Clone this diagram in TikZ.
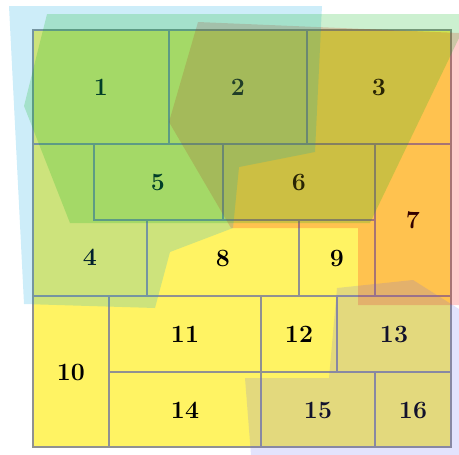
\documentclass[tikz,border=0pt]{standalone}
\begin{document}
\definecolor{baseyellow}{RGB}{255,243,99}
\definecolor{linegray}{RGB}{145,145,145}
\definecolor{setred}{RGB}{255,0,0}
\definecolor{setblue}{RGB}{5,165,225}
\definecolor{setgreen}{RGB}{0,180,20}
\definecolor{setlav}{RGB}{100,100,245}
\begin{tikzpicture}[x=1pt,y=-1pt,
  cell/.style={fill=baseyellow,draw=linegray,line width=1.1pt},
  lbl/.style={font=\Huge\bfseries,text=black,inner sep=0pt},
  overlay/.style={fill opacity=0.2}]
\useasboundingbox (0,0) rectangle (459,455);
% cells
\path[cell] (33,30) rectangle (169,144);
\path[cell] (169,30) rectangle (307,144);
\path[cell] (307,30) rectangle (451,144);
\path[cell] (33,144) -- (94,144) -- (94,220) -- (147,220) -- (147,296) -- (33,296) -- cycle;
\path[cell] (94,144) rectangle (223,220);
\path[cell] (223,144) rectangle (375,220);
\path[cell] (375,144) rectangle (451,296);
\path[cell] (147,220) rectangle (299,296);
\path[cell] (299,220) rectangle (375,296);
\path[cell] (33,296) rectangle (109,447);
\path[cell] (109,296) rectangle (261,372);
\path[cell] (261,296) rectangle (337,372);
\path[cell] (337,296) rectangle (451,372);
\path[cell] (109,372) rectangle (261,447);
\path[cell] (261,372) rectangle (375,447);
\path[cell] (375,372) rectangle (451,447);
% labels
\node[lbl] (n1) at (101,87) {1};
\node[lbl] (n2) at (238,87) {2};
\node[lbl] (n3) at (379,87) {3};
\node[lbl] (n4) at (90,257) {4};
\node[lbl] (n5) at (158,182) {5};
\node[lbl] (n6) at (299,182) {6};
\node[lbl] (n7) at (413,220) {7};
\node[lbl] (n8) at (223,258) {8};
\node[lbl] (n9) at (337,258) {9};
\node[lbl] (n10) at (71,372) {10};
\node[lbl] (n11) at (185,334) {11};
\node[lbl] (n12) at (299,334) {12};
\node[lbl] (n13) at (394,334) {13};
\node[lbl] (n14) at (185,410) {14};
\node[lbl] (n15) at (318,410) {15};
\node[lbl] (n16) at (413,410) {16};
% set overlays
\fill[overlay,setred] (198,22) -- (459,33) -- (459,305) -- (358,305) -- (358,228) -- (231,228) -- (169,122) -- cycle;
\fill[overlay,setblue] (9,6) -- (322,6) -- (315,152) -- (239,167) -- (233,228) -- (170,252) -- (155,308) -- (24,304) -- cycle;
\fill[overlay,setgreen] (47,14) -- (459,14) -- (459,38) -- (370,223) -- (70,223) -- (24,106) -- cycle;
\fill[overlay,setlav,fill opacity=0.18] (337,288) -- (413,280) -- (459,309) -- (459,455) -- (251,455) -- (245,378) -- (329,378) -- cycle;
\end{tikzpicture}
\end{document}
